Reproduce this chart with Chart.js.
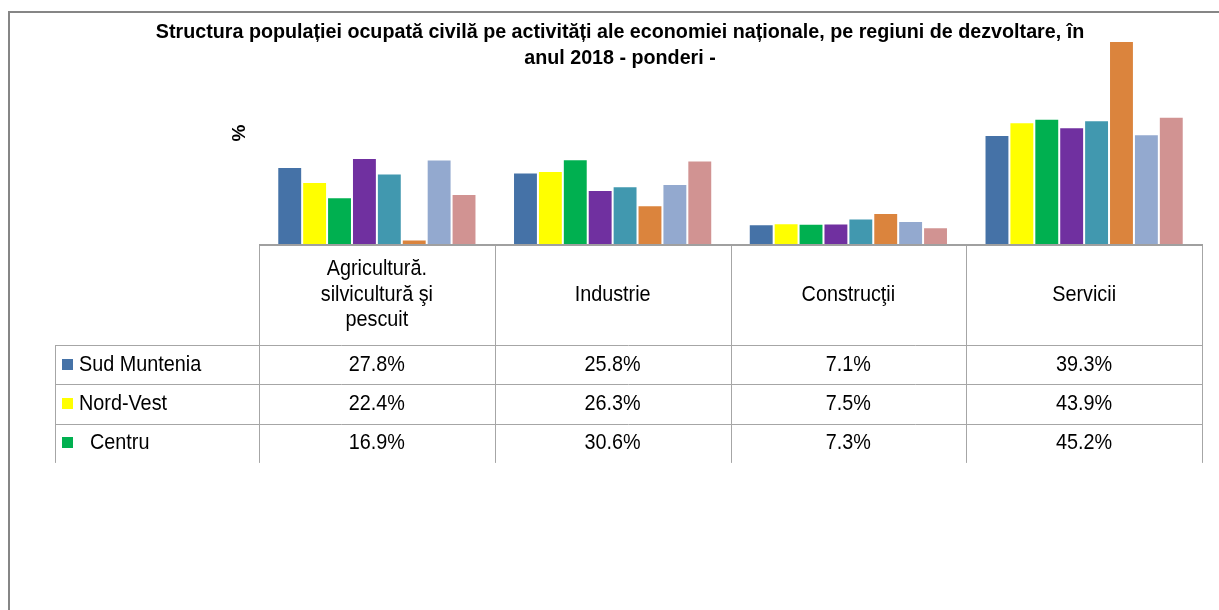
<!DOCTYPE html>
<html><head><meta charset="utf-8">
<script src="https://cdn.jsdelivr.net/npm/chart.js@4"></script>
<style>html,body{margin:0;padding:0;background:#fff;overflow:hidden}</style>
</head><body>
<canvas id="c" width="1219" height="610"></canvas>
<script>
// ---- data ----
const categories = [["Agricultură.", "silvicultură şi", "pescuit"], ["Industrie"], ["Construcţii"], ["Servicii"]];
const regions = ["Sud Muntenia", "Nord-Vest", "Centru", "Nord-Est", "Sud-Est", "Bucureşti-Ilfov", "Sud-Vest Oltenia", "Vest"];
const sudMuntenia    = [27.8, 25.8, 7.1, 39.3];
const nordVest       = [22.4, 26.3, 7.5, 43.9];
const centru         = [16.9, 30.6, 7.3, 45.2];
const nordEst        = [31.0, 19.5, 7.4, 42.1];
const sudEst         = [25.4, 20.8, 9.2, 44.6];
const bucurestiIlfov = [1.6, 14.0, 11.2, 73.2];
const sudVestOltenia = [30.5, 21.6, 8.3, 39.6];
const vest           = [18.0, 30.1, 6.0, 45.9];
const titleLines = ["Structura populației ocupată civilă pe activități ale economiei naționale, pe regiuni de dezvoltare, în", "anul 2018 - ponderi -"];
const yAxisLabel = "%";
const visibleTableRows = 3;

// ---- styles ----
const seriesValues = [sudMuntenia, nordVest, centru, nordEst, sudEst, bucurestiIlfov, sudVestOltenia, vest];
const colors = ["#4572A7", "#FFFF00", "#00B050", "#7030A0", "#4198AF", "#DB843D", "#93A9CF", "#D19392"];
const FONT = '"Liberation Sans", Arial, sans-serif';
const TITLE_SX = 0.985;
const SX = 0.9;
const TSIZE = 22;

function txt(ctx, s, x, y, size, bold, align, sx) {
  ctx.save();
  ctx.translate(x, y);
  ctx.scale(sx, 1);
  ctx.font = (bold ? 'bold ' : '') + size + 'px ' + FONT;
  ctx.textAlign = align;
  ctx.textBaseline = 'middle';
  ctx.fillStyle = '#000';
  ctx.fillText(s, 0, 0);
  ctx.restore();
}

const decor = {
  id: 'decor',
  afterDraw(chart) {
    const ctx = chart.ctx;
    const ca = chart.chartArea;
    const xs = chart.scales.x;
    // frame
    ctx.save();
    ctx.strokeStyle = '#868686';
    ctx.lineWidth = 2;
    ctx.beginPath();
    ctx.moveTo(9, 610); ctx.lineTo(9, 12); ctx.lineTo(1219, 12);
    ctx.stroke();
    ctx.restore();
    // title
    txt(ctx, titleLines[0], 620, 32, 20, true, 'center', TITLE_SX);
    txt(ctx, titleLines[1], 620, 58, 20, true, 'center', TITLE_SX);
    // y label
    ctx.save();
    ctx.translate(240, 133);
    ctx.rotate(-Math.PI / 2);
    ctx.font = 'bold 19px ' + FONT;
    ctx.textAlign = 'center'; ctx.textBaseline = 'middle'; ctx.fillStyle = '#000';
    ctx.fillText(yAxisLabel, 0, 0);
    ctx.restore();

    // table
    const n = categories.length;
    const cw = (ca.right - ca.left) / n;
    const base = ca.bottom;
    const headBottom = 345;
    const rowH = 39.3;
    const tableLeft = 55;
    const tableBottom = headBottom + rowH * visibleTableRows;
    ctx.save();
    ctx.strokeStyle = '#A6A6A6';
    ctx.lineWidth = 1;
    for (let i = 0; i <= n; i++) {
      const x = Math.round(xs.getPixelForValue(0) - cw / 2 + i * cw) + 0.5;
      ctx.beginPath(); ctx.moveTo(x, base); ctx.lineTo(x, tableBottom); ctx.stroke();
    }
    ctx.beginPath(); ctx.moveTo(tableLeft + 0.5, headBottom); ctx.lineTo(tableLeft + 0.5, tableBottom); ctx.stroke();
    for (let r = 0; r < visibleTableRows; r++) {
      const y = Math.round(headBottom + r * rowH) + 0.5;
      ctx.beginPath(); ctx.moveTo(tableLeft, y); ctx.lineTo(ca.right, y); ctx.stroke();
    }
    ctx.strokeStyle = '#A0A0A0';
    ctx.lineWidth = 2;
    ctx.beginPath(); ctx.moveTo(ca.left, base + 1); ctx.lineTo(ca.right + 1, base + 1); ctx.stroke();
    ctx.restore();

    // header labels
    for (let i = 0; i < n; i++) {
      const cx = xs.getPixelForValue(i);
      const lines = categories[i];
      const lh = 25.5;
      const mid = (base + headBottom) / 2;
      lines.forEach((l, k) => {
        txt(ctx, l, cx, mid + (k - (lines.length - 1) / 2) * lh, TSIZE, false, 'center', SX);
      });
    }
    // rows
    for (let r = 0; r < visibleTableRows; r++) {
      const cy = headBottom + r * rowH + rowH / 2;
      ctx.fillStyle = colors[r];
      ctx.fillRect(62, Math.round(cy - 6), 11, 11);
      const indent = (r === 2) ? 11 : 0;
      txt(ctx, regions[r], 79 + indent, cy, TSIZE, false, 'left', SX);
      for (let i = 0; i < n; i++) {
        txt(ctx, seriesValues[r][i].toFixed(1) + '%', xs.getPixelForValue(i), cy, TSIZE, false, 'center', SX);
      }
    }
  }
};

new Chart(document.getElementById('c'), {
  type: 'bar',
  data: {
    labels: categories,
    datasets: regions.map((name, i) => ({
      label: name,
      data: seriesValues[i],
      backgroundColor: colors[i],
      borderColor: 'rgba(255,255,255,0.35)',
      borderWidth: 1,
      categoryPercentage: 0.845,
      barPercentage: 1.0
    }))
  },
  options: {
    responsive: false,
    animation: false,
    devicePixelRatio: 1,
    layout: { padding: { left: 259, right: 17, top: 36, bottom: 366 } },
    scales: {
      x: { display: false },
      y: { display: false, min: 0, max: 75 }
    },
    plugins: { legend: { display: false }, tooltip: { enabled: false }, title: { display: false } }
  },
  plugins: [decor]
});
</script>
</body></html>
